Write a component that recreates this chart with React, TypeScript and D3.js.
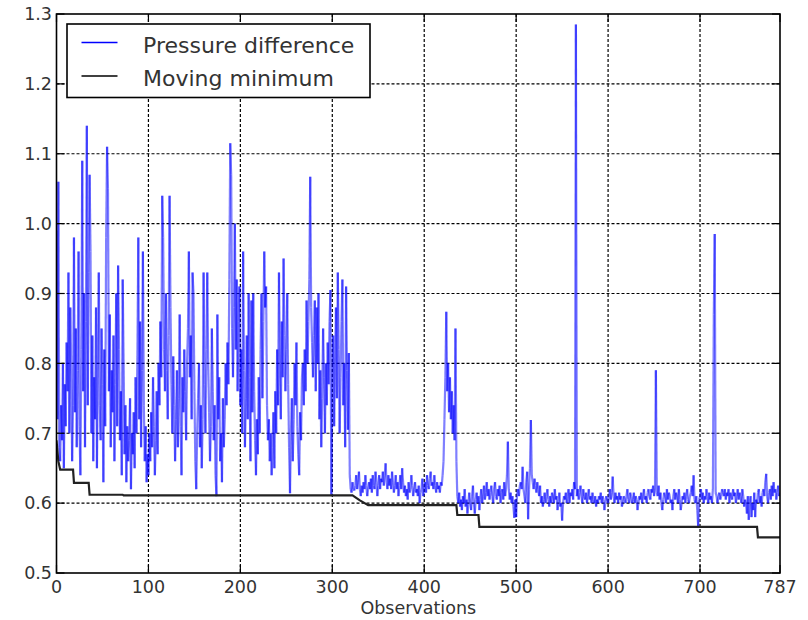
import React from "react";
import * as d3 from "d3";

// Pressure difference, one value per observation (0..787)
const pressure: number[] = [
  0.99, 0.72, 1.06, 0.68, 0.66, 0.74, 0.69, 0.80, 0.65, 0.77, 0.71, 0.83, 0.76, 0.93, 0.70, 0.88, 0.79, 0.66, 0.74, 0.98,
  0.73, 0.85, 0.68, 0.79, 0.96, 0.71, 0.64, 0.82, 1.09, 0.76, 0.90, 0.68, 0.86, 1.14, 0.74, 0.93, 1.07, 0.96, 0.70, 0.84,
  0.66, 0.78, 0.72, 0.88, 0.65, 0.80, 0.93, 0.74, 0.69, 0.85, 0.77, 0.63, 0.82, 0.71, 0.98, 1.11, 1.05, 0.76, 0.87, 0.68,
  0.79, 0.73, 0.84, 0.66, 0.77, 0.90, 0.71, 0.94, 0.82, 0.69, 0.76, 0.64, 0.92, 0.80, 0.67, 0.74, 0.63, 0.71, 0.66, 0.69,
  0.75, 0.62, 0.70, 0.67, 0.73, 0.65, 0.78, 0.70, 0.81, 0.98, 0.72, 0.86, 0.68, 0.79, 0.96, 0.74, 0.66, 0.71, 0.63, 0.67,
  0.64, 0.70, 0.66, 0.73, 0.68, 0.78, 0.71, 0.64, 0.69, 0.76, 0.67, 0.80, 0.74, 0.86, 0.78, 1.04, 0.98, 0.82, 0.76, 0.90,
  0.79, 0.72, 0.84, 1.04, 0.88, 0.77, 0.70, 0.81, 0.74, 0.66, 0.72, 0.79, 0.68, 0.75, 0.87, 0.71, 0.64, 0.78, 0.73, 0.82,
  0.76, 0.69, 0.80, 0.85, 0.96, 0.78, 0.84, 0.72, 0.93, 0.90, 0.76, 0.66, 0.62, 0.70, 0.75, 0.80, 0.68, 0.74, 0.65, 0.72,
  0.93, 0.77, 0.70, 0.82, 0.93, 0.80, 0.73, 0.66, 0.71, 0.85, 0.76, 0.69, 0.74, 0.64, 0.61, 0.87, 0.72, 0.78, 0.66, 0.70,
  0.63, 0.75, 0.68, 0.72, 0.80, 0.74, 0.83, 0.77, 0.92, 1.115, 1.07, 0.85, 0.78, 0.88, 1.00, 0.82, 0.92, 0.76, 0.86, 0.91,
  0.74, 0.82, 0.70, 0.96, 0.79, 0.68, 0.75, 0.84, 0.72, 0.90, 0.78, 0.66, 0.89, 0.73, 0.90, 0.76, 0.69, 0.64, 0.72, 0.67,
  0.78, 0.70, 0.82, 0.90, 0.75, 0.86, 0.96, 0.88, 0.91, 0.74, 0.69, 0.72, 0.66, 0.70, 0.64, 0.68, 0.73, 0.65, 0.76, 0.70,
  0.82, 0.74, 0.93, 0.80, 0.72, 0.86, 0.78, 0.95, 0.84, 0.76, 0.82, 0.90, 0.77, 0.68, 0.614, 0.70, 0.75, 0.66, 0.72, 0.80,
  0.74, 0.83, 0.71, 0.67, 0.64, 0.73, 0.69, 0.78, 0.80, 0.74, 0.82, 0.76, 0.89, 0.80, 0.86, 0.92, 1.067, 0.88, 0.83, 0.78,
  0.84, 0.89, 0.76, 0.88, 0.80, 0.90, 0.72, 0.79, 0.68, 0.75, 0.85, 0.78, 0.70, 0.80, 0.74, 0.83, 0.77, 0.86, 0.905, 0.612,
  0.76, 0.84, 0.71, 0.80, 0.88, 0.75, 0.93, 0.82, 0.70, 0.78, 0.86, 0.92, 0.74, 0.80, 0.68, 0.91, 0.79, 0.705, 0.815, 0.64,
  0.62, 0.615, 0.63, 0.62, 0.618, 0.625, 0.64, 0.62, 0.63, 0.645, 0.62, 0.61, 0.625, 0.615, 0.63, 0.62, 0.64, 0.625, 0.61, 0.62,
  0.63, 0.62, 0.635, 0.615, 0.64, 0.625, 0.62, 0.645, 0.63, 0.61, 0.625, 0.64, 0.62, 0.635, 0.63, 0.645, 0.625, 0.64, 0.657, 0.63,
  0.62, 0.64, 0.625, 0.635, 0.62, 0.645, 0.63, 0.615, 0.625, 0.64, 0.62, 0.63, 0.61, 0.625, 0.64, 0.62, 0.65, 0.63, 0.615, 0.625,
  0.61, 0.62, 0.605, 0.63, 0.615, 0.62, 0.64, 0.625, 0.61, 0.62, 0.63, 0.615, 0.62, 0.61, 0.625, 0.60, 0.615, 0.62, 0.635, 0.61,
  0.62, 0.63, 0.615, 0.64, 0.625, 0.62, 0.635, 0.645, 0.625, 0.63, 0.62, 0.64, 0.625, 0.615, 0.63, 0.62, 0.625, 0.615, 0.63, 0.625,
  0.64, 0.66, 0.72, 0.78, 0.874, 0.76, 0.80, 0.73, 0.78, 0.72, 0.76, 0.70, 0.74, 0.69, 0.85, 0.66, 0.61, 0.60, 0.615, 0.595,
  0.605, 0.59, 0.61, 0.60, 0.62, 0.595, 0.605, 0.585, 0.60, 0.615, 0.60, 0.59, 0.61, 0.625, 0.60, 0.585, 0.605, 0.615, 0.60, 0.61,
  0.59, 0.605, 0.62, 0.60, 0.61, 0.625, 0.605, 0.615, 0.63, 0.61, 0.62, 0.605, 0.615, 0.625, 0.61, 0.60, 0.62, 0.63, 0.61, 0.605,
  0.62, 0.61, 0.625, 0.60, 0.615, 0.62, 0.605, 0.63, 0.61, 0.62, 0.64, 0.688, 0.62, 0.605, 0.615, 0.60, 0.61, 0.595, 0.579, 0.605,
  0.58, 0.615, 0.62, 0.61, 0.625, 0.63, 0.62, 0.652, 0.62, 0.61, 0.60, 0.63, 0.645, 0.577, 0.62, 0.65, 0.719, 0.64, 0.63, 0.62,
  0.635, 0.625, 0.615, 0.63, 0.62, 0.61, 0.625, 0.60, 0.61, 0.595, 0.605, 0.615, 0.60, 0.61, 0.62, 0.605, 0.595, 0.61, 0.60, 0.615,
  0.61, 0.60, 0.62, 0.605, 0.61, 0.59, 0.60, 0.615, 0.595, 0.60, 0.575, 0.60, 0.61, 0.605, 0.615, 0.60, 0.61, 0.62, 0.60, 0.615,
  0.61, 0.62, 0.605, 0.63, 0.62, 1.285, 0.61, 0.62, 0.605, 0.615, 0.625, 0.61, 0.60, 0.62, 0.61, 0.605, 0.615, 0.60, 0.61, 0.62,
  0.605, 0.61, 0.60, 0.615, 0.605, 0.60, 0.61, 0.595, 0.605, 0.60, 0.61, 0.605, 0.615, 0.60, 0.61, 0.605, 0.59, 0.60, 0.61, 0.605,
  0.60, 0.61, 0.62, 0.605, 0.615, 0.638, 0.61, 0.60, 0.615, 0.605, 0.61, 0.60, 0.615, 0.605, 0.61, 0.595, 0.60, 0.61, 0.605, 0.60,
  0.61, 0.62, 0.605, 0.60, 0.615, 0.61, 0.60, 0.605, 0.615, 0.60, 0.61, 0.605, 0.59, 0.60, 0.61, 0.605, 0.615, 0.60, 0.61, 0.62,
  0.605, 0.61, 0.60, 0.615, 0.62, 0.61, 0.605, 0.62, 0.615, 0.625, 0.61, 0.62, 0.79, 0.615, 0.61, 0.625, 0.605, 0.615, 0.60, 0.59,
  0.605, 0.615, 0.61, 0.60, 0.62, 0.605, 0.615, 0.61, 0.60, 0.605, 0.59, 0.61, 0.62, 0.605, 0.615, 0.61, 0.60, 0.62, 0.605, 0.59,
  0.60, 0.61, 0.605, 0.615, 0.60, 0.61, 0.62, 0.605, 0.60, 0.61, 0.615, 0.625, 0.61, 0.64, 0.605, 0.60, 0.61, 0.59, 0.566, 0.605,
  0.61, 0.62, 0.605, 0.615, 0.60, 0.61, 0.605, 0.62, 0.61, 0.60, 0.615, 0.605, 0.61, 0.60, 0.62, 0.87, 0.985, 0.615, 0.61, 0.60,
  0.61, 0.615, 0.605, 0.61, 0.62, 0.615, 0.61, 0.62, 0.605, 0.615, 0.61, 0.62, 0.60, 0.615, 0.61, 0.605, 0.62, 0.61, 0.615, 0.60,
  0.61, 0.62, 0.605, 0.615, 0.61, 0.60, 0.62, 0.61, 0.595, 0.605, 0.60, 0.585, 0.61, 0.576, 0.60, 0.61, 0.58, 0.60, 0.59, 0.615,
  0.58, 0.605, 0.60, 0.615, 0.62, 0.60, 0.61, 0.595, 0.615, 0.62, 0.61, 0.63, 0.642, 0.61, 0.60, 0.615, 0.62, 0.605, 0.625, 0.61,
  0.63, 0.615, 0.62, 0.605, 0.615, 0.625, 0.61, 0.615,
];

// Moving minimum as a step line (observation, value)
const minObs: number[] = [0, 2, 4, 18, 19, 35, 36, 72, 73, 322, 330, 339, 435, 436, 459, 460, 762, 763, 787];
const minVal: number[] = [0.69, 0.66, 0.648, 0.648, 0.629, 0.629, 0.612, 0.612, 0.611, 0.611, 0.604, 0.597, 0.597, 0.583, 0.583, 0.566, 0.566, 0.551, 0.551];

const xTicks: number[] = [0, 100, 200, 300, 400, 500, 600, 700, 787];
const yTicks: number[] = [0.5, 0.6, 0.7, 0.8, 0.9, 1.0, 1.1, 1.2, 1.3];
const xLabel = "Observations";
const seriesNames: string[] = ["Pressure difference", "Moving minimum"];

const W = 808;
const H = 620;
const L = 56.5, R = 780, T = 14, B = 573;

export default function App() {
  const x = d3.scaleLinear().domain([0, 787]).range([L, R]);
  const y = d3.scaleLinear().domain([0.5, 1.3]).range([B, T]);

  const segs = pressure.slice(1).map((v, i) => ({
    x1: x(i), y1: y(pressure[i]), x2: x(i + 1), y2: y(v),
  }));
  const minLine = d3.line<number>()
    .x((_, i) => x(minObs[i]))
    .y((d) => y(d))(minVal) || "";

  const font = "'DejaVu Sans', sans-serif";
  const tickLen = 8;

  return (
    <svg width={W} height={H} style={{ position: "absolute", left: 0, top: 0, background: "#fff" }}
      fontFamily={font}>
      <rect x={0} y={0} width={W} height={H} fill="#fff" />
      <defs>
        <clipPath id="plot">
          <rect x={L} y={T} width={R - L} height={B - T} />
        </clipPath>
      </defs>
      {/* grid */}
      <g stroke="#000" strokeWidth={1.2} strokeDasharray="3,2">
        {xTicks.slice(1, -1).map((t) => (
          <line key={"gx" + t} x1={x(t)} x2={x(t)} y1={T} y2={B} />
        ))}
        {yTicks.slice(1, -1).map((t) => (
          <line key={"gy" + t} x1={L} x2={R} y1={y(t)} y2={y(t)} />
        ))}
      </g>
      {/* data */}
      <g clipPath="url(#plot)">
        <g stroke="#0000ff" strokeWidth={2.2} strokeOpacity={0.5} strokeLinecap="butt">
          {segs.map((s, i) => (
            <line key={i} x1={s.x1} y1={s.y1} x2={s.x2} y2={s.y2} />
          ))}
        </g>
        <path d={minLine} fill="none" stroke="#222" strokeWidth={2.2} />
      </g>
      {/* ticks */}
      <g stroke="#000" strokeWidth={1.2}>
        {xTicks.map((t) => (
          <g key={"tx" + t}>
            <line x1={x(t)} x2={x(t)} y1={B} y2={B - tickLen} />
            <line x1={x(t)} x2={x(t)} y1={T} y2={T + tickLen} />
          </g>
        ))}
        {yTicks.map((t) => (
          <g key={"ty" + t}>
            <line x1={L} x2={L + tickLen} y1={y(t)} y2={y(t)} />
            <line x1={R} x2={R - tickLen} y1={y(t)} y2={y(t)} />
          </g>
        ))}
      </g>
      <rect x={L} y={T} width={R - L} height={B - T} fill="none" stroke="#000" strokeWidth={1.6} />
      {/* tick labels */}
      <g fill="#333" fontSize={17.5}>
        {xTicks.map((t) => (
          <text key={"lx" + t} x={x(t)} y={593} textAnchor="middle">{t}</text>
        ))}
        {yTicks.map((t) => (
          <text key={"ly" + t} x={52} y={y(t)} dy="0.36em" textAnchor="end">{t.toFixed(1)}</text>
        ))}
        <text x={(L + R) / 2} y={614} textAnchor="middle">{xLabel}</text>
      </g>
      {/* legend */}
      <g>
        <rect x={67} y={24} width={303} height={73.5} fill="#fff" stroke="#000" strokeWidth={1.6} />
        <line x1={81.5} x2={117.5} y1={42.5} y2={42.5} stroke="#0000ff" strokeWidth={1.4} />
        <line x1={81.5} x2={117.5} y1={76} y2={76} stroke="#000" strokeWidth={1.6} />
        <text x={143} y={52.5} fontSize={22} fill="#333">{seriesNames[0]}</text>
        <text x={143} y={86} fontSize={22} fill="#333">{seriesNames[1]}</text>
      </g>
    </svg>
  );
}
